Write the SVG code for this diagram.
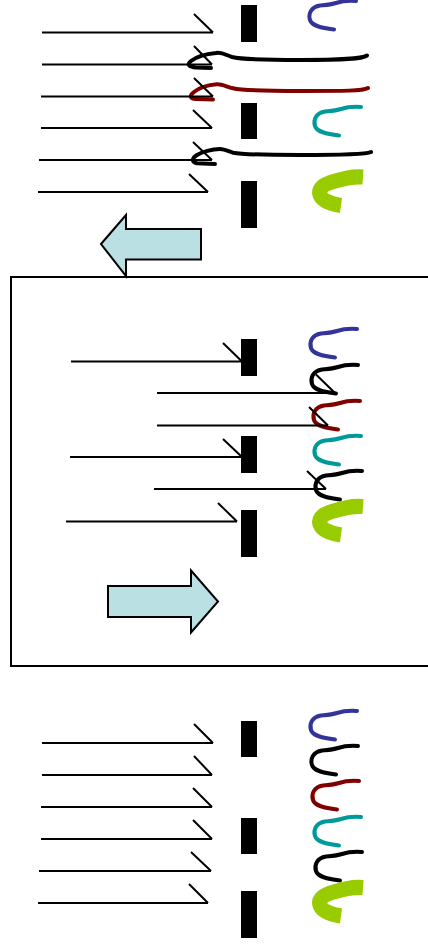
<svg xmlns="http://www.w3.org/2000/svg" xmlns:xlink="http://www.w3.org/1999/xlink" width="428" height="949" viewBox="0 0 428 949">
  <style>
    .bar { fill: #000; }
    .ray { fill: none; stroke: #000; stroke-width: 2; }
    .strand { fill: none; stroke-width: 4; stroke-linecap: round; stroke-linejoin: round; }
    .thick { fill: none; stroke: #99CC00; stroke-width: 15; stroke-linecap: butt; }
    .blue { stroke: #333399; }
    .black { stroke: #000; }
    .red { stroke: #800000; }
    .teal { stroke: #009999; }
    .block { fill: #BBE0E3; stroke: #000; stroke-width: 2; stroke-linejoin: miter; }
    .frame { fill: none; stroke: #000; stroke-width: 2; }
  </style>
  <defs>
    <!-- hook-shaped strand, origin at its upper right end -->
    <path id="hook" d="M0,0 C-8,-0.5 -14,0 -20,2 C-26,4 -30,4 -36,4.5 C-45,6 -48,13 -46,19 C-44,25 -35,27 -22,28.5"/>
    <!-- heavy hook, origin at the middle of its right end -->
    <path id="heavy" d="M0,0 C-14,-1 -24,3 -34,6 C-49,11 -47,25 -22,28.5"/>
  </defs>

  <!-- enclosing frame of the middle stage -->
  <rect id="frame" class="frame" x="11" y="277" width="440" height="389"/>

  <!-- top stage -->
  <g id="top-stage">
    <g id="top-barrier">
      <rect class="bar" x="241" y="5" width="16" height="37"/>
      <rect class="bar" x="241" y="103" width="16" height="36"/>
      <rect class="bar" x="241" y="181" width="16" height="47"/>
    </g>
    <g id="top-strands">
      <use xlink:href="#hook" class="strand blue" transform="translate(356,1)"/>
      <path class="strand black" d="M367,55.5 C362,59 345,60 300,60 C260,60 240,59 232,57 C226,55 222,52 216,53 C206,54 196,57 191,61 C186,65 190,67 196,67.5 L211,68"/>
      <path class="strand red" d="M368,88 C363,91 345,91 300,91 C262,91 240,90 233,88.3 C227,87 222,84 217,84.3 C208,85 199,88 194,92 C189,96 190,99 196,99 L213,99.5"/>
      <use xlink:href="#hook" class="strand teal" transform="translate(361,107)"/>
      <path class="strand black" d="M371,152 C366,154.5 345,155 300,155 C262,155 240,154 233,152.7 C228,151 224,149 220,149 C212,149 202,152 197,155 C192,158 191,162 197,163.3 L215,164"/>
      <use xlink:href="#heavy" class="thick" transform="translate(363,177)"/>
    </g>
    <g id="top-rays" class="ray">
      <path d="M42,32.5 H213 M194,14 L213,32.5"/>
      <path d="M42,64.5 H212 M194,46 L212,64.5"/>
      <path d="M41,96.5 H213 M194,78 L213,96.5"/>
      <path d="M41,128 H212 M193,110 L212,128"/>
      <path d="M39,160 H212 M193,142 L212,160"/>
      <path d="M38,192 H208 M189,174 L208,192"/>
    </g>
  </g>

  <!-- arrow pointing left, between top stage and frame -->
  <g id="arrow-left">
    <polygon class="block" points="101,244 126,215 126,229 201,229 201,259.5 126,259.5 126,276"/>
  </g>

  <!-- middle stage, inside the frame -->
  <g id="middle-stage">
    <g id="middle-barrier">
      <rect class="bar" x="241" y="339" width="16" height="37"/>
      <rect class="bar" x="241" y="436" width="16" height="37"/>
      <rect class="bar" x="241" y="510" width="16" height="47"/>
    </g>
    <g id="middle-strands">
      <use xlink:href="#hook" class="strand blue" transform="translate(357,329)"/>
      <use xlink:href="#hook" class="strand black" transform="translate(358,365)"/>
      <use xlink:href="#hook" class="strand red" transform="translate(360,401)"/>
      <use xlink:href="#hook" class="strand teal" transform="translate(361,436)"/>
      <use xlink:href="#hook" class="strand black" transform="translate(362,471)"/>
      <use xlink:href="#heavy" class="thick" transform="translate(363,506.5)"/>
    </g>
    <g id="middle-rays" class="ray">
      <path d="M71,361.5 H242 M223,343 L242,361.5"/>
      <path d="M157,393 H335 M316,374.5 L335,393"/>
      <path d="M157,425.5 H328 M309,407 L328,425.5"/>
      <path d="M70,457 H242 M223,439 L242,457"/>
      <path d="M154,489 H326 M307,471 L326,489"/>
      <path d="M66,521.5 H237 M218,503 L237,521.5"/>
    </g>
  </g>

  <!-- arrow pointing right, inside the frame -->
  <g id="arrow-right">
    <polygon class="block" points="108,586 191,586 191,570.5 218,601.5 191,632.5 191,617 108,617"/>
  </g>

  <!-- bottom stage -->
  <g id="bottom-stage">
    <g id="bottom-barrier">
      <rect class="bar" x="241" y="721" width="16" height="36"/>
      <rect class="bar" x="241" y="818" width="16" height="36"/>
      <rect class="bar" x="241" y="891" width="16" height="47"/>
    </g>
    <g id="bottom-strands">
      <use xlink:href="#hook" class="strand blue" transform="translate(357,711)"/>
      <use xlink:href="#hook" class="strand black" transform="translate(358,746)"/>
      <use xlink:href="#hook" class="strand red" transform="translate(359,781)"/>
      <use xlink:href="#hook" class="strand teal" transform="translate(361,817)"/>
      <use xlink:href="#hook" class="strand black" transform="translate(362,852)"/>
      <use xlink:href="#heavy" class="thick" transform="translate(363,887.5)"/>
    </g>
    <g id="bottom-rays" class="ray">
      <path d="M42,743 H213 M194,724 L213,743"/>
      <path d="M42,775 H212 M194,756 L212,775"/>
      <path d="M41,807 H212 M193,788 L212,807"/>
      <path d="M41,839 H212 M193,820 L212,839"/>
      <path d="M39,871 H211 M191,852 L211,871"/>
      <path d="M38,903 H208 M189,884 L208,903"/>
    </g>
  </g>
</svg>
